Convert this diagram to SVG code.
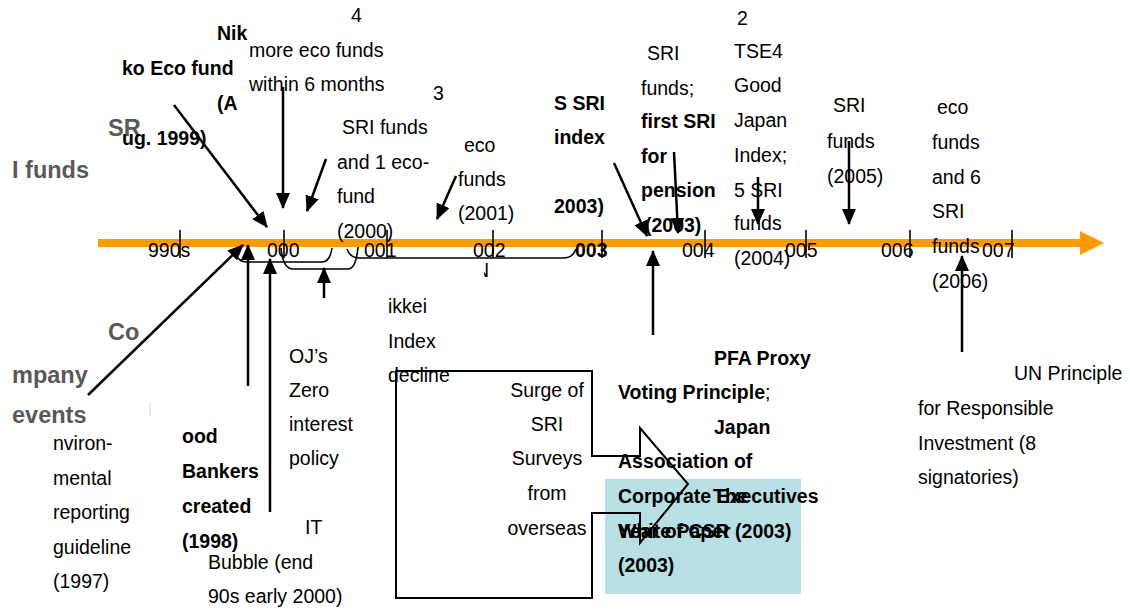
<svg xmlns="http://www.w3.org/2000/svg" width="1130" height="612" viewBox="0 0 1130 612">
<style>
text{font-family:"Liberation Sans",Arial,sans-serif;font-size:19.5px;fill:#000}
.b{font-weight:bold}
.g{font-size:23.5px;font-weight:bold;fill:#595959}
.ar{stroke:#000;stroke-width:2.5;fill:none;marker-end:url(#ah)}
.tk{stroke:#000;stroke-width:1.6}
.br{stroke:#000;stroke-width:1.6;fill:none}
.m{text-anchor:middle}
</style>
<defs>
<marker id="ah" markerUnits="userSpaceOnUse" markerWidth="16" markerHeight="14" viewBox="0 0 16 14" refX="15" refY="7" orient="auto">
<path d="M0,0 L16,7 L0,14 z" fill="#000"/>
</marker>
<clipPath id="nclip"><rect x="484" y="255" width="20" height="30"/></clipPath>
</defs>
<rect width="1130" height="612" fill="#fff"/>

<g id="timeline">
<rect x="98" y="239" width="984" height="8" fill="#ff9a00"/>
<polygon points="1080,231 1104,243 1080,255" fill="#ff9a00"/>
<line class="tk" x1="180" y1="230" x2="180" y2="258"/>
<line class="tk" x1="284" y1="230" x2="284" y2="258"/>
<line class="tk" x1="387" y1="230" x2="387" y2="258"/>
<line class="tk" x1="493" y1="230" x2="493" y2="258"/>
<line class="tk" x1="602" y1="230" x2="602" y2="258"/>
<line class="tk" x1="705" y1="230" x2="705" y2="258"/>
<line class="tk" x1="806" y1="230" x2="806" y2="258"/>
<line class="tk" x1="910" y1="230" x2="910" y2="258"/>
<line class="tk" x1="1012" y1="230" x2="1012" y2="258"/>
<text x="148" y="257">990s</text>
<text x="267" y="257">000</text>
<text x="364" y="257">001</text>
<text x="473" y="257">002</text>
<text class="b" x="575" y="257">003</text>
<text x="682" y="257">004</text>
<text x="785" y="257">005</text>
<text x="881" y="257">006</text>
<text x="982" y="257">007</text>
</g>

<g id="labels-left">
<text class="g" x="108" y="136">SR</text>
<text class="g" x="12" y="178">I funds</text>
<text class="g" x="108" y="340">Co</text>
<text class="g" x="12" y="383">mpany</text>
<text class="g" x="12" y="423">events</text>
<line x1="150" y1="402" x2="150" y2="416" stroke="#d8d8d8" stroke-width="1"/>
</g>

<g id="nikko">
<text class="b" x="217" y="40">Nik</text>
<text class="b" x="122" y="75">ko Eco fund</text>
<text class="b" x="217" y="110">(A</text>
<text class="b" x="122" y="145">ug. 1999)</text>
</g>

<g id="eco4">
<text x="351" y="22">4</text>
<text x="249" y="57">more eco funds</text>
<text x="249" y="91">within 6 months</text>
</g>

<g id="sri2000">
<text x="433" y="100">3</text>
<text x="342" y="134">SRI funds</text>
<text x="337" y="169">and 1 eco-</text>
<text x="337" y="203">fund</text>
<text x="337" y="238">(2000)</text>
</g>

<g id="eco2001">
<text x="464" y="152">eco</text>
<text x="458" y="186">funds</text>
<text x="458" y="220">(2001)</text>
</g>

<g id="index2003">
<text class="b" x="554" y="110">S SRI</text>
<text class="b" x="554" y="144">index</text>
<text class="b" x="554" y="213">2003)</text>
</g>

<g id="pension2003">
<text x="647" y="60">SRI</text>
<text x="641" y="95">funds;</text>
<text class="b" x="641" y="128">first SRI</text>
<text class="b" x="641" y="163">for</text>
<text class="b" x="641" y="197">pension</text>
<text class="b" x="645" y="232">(2003)</text>
</g>

<g id="tse2004">
<text x="737" y="25">2</text>
<text x="734" y="58">TSE4</text>
<text x="734" y="92">Good</text>
<text x="734" y="127">Japan</text>
<text x="734" y="162">Index;</text>
<text x="734" y="197">5 SRI</text>
<text x="734" y="230">funds</text>
<text x="734" y="265">(2004)</text>
</g>

<g id="sri2005">
<text x="833" y="112">SRI</text>
<text x="827" y="148">funds</text>
<text x="827" y="183">(2005)</text>
</g>

<g id="eco2006">
<text x="937" y="114">eco</text>
<text x="932" y="149">funds</text>
<text x="932" y="184">and 6</text>
<text x="932" y="218">SRI</text>
<text x="932" y="253">funds</text>
<text x="932" y="288">(2006)</text>
</g>

<g id="env1997">
<text x="53" y="450">nviron-</text>
<text x="53" y="485">mental</text>
<text x="53" y="519">reporting</text>
<text x="53" y="554">guideline</text>
<text x="53" y="588">(1997)</text>
</g>

<g id="goodbankers">
<text class="b" x="182" y="443">ood</text>
<text class="b" x="182" y="478">Bankers</text>
<text class="b" x="182" y="513">created</text>
<text class="b" x="182" y="548">(1998)</text>
</g>

<g id="boj">
<text x="289" y="363">OJ’s</text>
<text x="289" y="397">Zero</text>
<text x="289" y="431">interest</text>
<text x="289" y="465">policy</text>
</g>

<g id="itbubble">
<text x="305" y="534">IT</text>
<text x="208" y="569">Bubble (end</text>
<text x="208" y="603">90s early 2000)</text>
</g>

<g id="nikkei">
<text x="475" y="277" clip-path="url(#nclip)">N</text>
<text x="388" y="313">ikkei</text>
<text x="388" y="348">Index</text>
<text x="388" y="382">decline</text>
</g>

<g id="csr2003">
<rect x="605" y="479" width="196" height="115" fill="#b8dfe3"/>
<text class="b" x="714" y="365">PFA Proxy</text>
<text x="618" y="399"><tspan class="b">Voting Principle</tspan>;</text>
<text class="b" x="714" y="434">Japan</text>
<text class="b" x="618" y="468">Association of</text>
<text class="b" x="618" y="503">Corporate Executives</text>
<text class="b" x="618" y="538">White Paper</text>
<text class="b" x="618" y="572">(2003)</text>
<text class="b" x="713" y="503">The</text>
<text class="b" x="618" y="538">Year of CSR (2003)</text>
</g>

<g id="surveys">
<polygon points="396,371 592,371 592,456 640,456 640,428 688,484 640,543 640,513 592,513 592,598 396,598" fill="none" stroke="#000" stroke-width="2"/>
<text class="m" x="547" y="397">Surge of</text>
<text class="m" x="547" y="431">SRI</text>
<text class="m" x="547" y="465">Surveys</text>
<text class="m" x="547" y="500">from</text>
<text class="m" x="547" y="535">overseas</text>
</g>

<g id="unpri">
<text x="1014" y="380">UN Principle</text>
<text x="918" y="415">for Responsible</text>
<text x="918" y="450">Investment (8</text>
<text x="918" y="484">signatories)</text>
</g>

<g id="connectors">
<path class="br" d="M235,251 Q237,262 247,262 L322,262 Q330,262 332,248"/>
<path class="br" d="M281,248 Q283,269 293,269 L348,269 Q356,269 358,247"/>
<path class="br" d="M347,249 Q350,258 360,258 L563,258 Q573,258 576,249"/>
<line class="ar" x1="174" y1="105" x2="267" y2="227"/>
<line class="ar" x1="283" y1="87" x2="283" y2="208"/>
<line class="ar" x1="326" y1="159" x2="307" y2="211"/>
<line class="ar" x1="456" y1="176" x2="437" y2="219"/>
<line class="ar" x1="614" y1="163" x2="647" y2="236"/>
<line class="ar" x1="674" y1="152" x2="678" y2="233"/>
<line class="ar" x1="758" y1="177" x2="758" y2="224"/>
<line class="ar" x1="849" y1="141" x2="849" y2="224"/>
<line class="ar" x1="962" y1="352" x2="962" y2="256"/>
<line class="ar" x1="653" y1="335" x2="653" y2="251"/>
<line class="ar" x1="88" y1="395" x2="243" y2="245"/>
<line class="ar" x1="248" y1="386" x2="248" y2="245"/>
<line class="ar" x1="270" y1="512" x2="270" y2="259"/>
<line class="ar" x1="324" y1="298" x2="324" y2="268"/>
</g>
</svg>
